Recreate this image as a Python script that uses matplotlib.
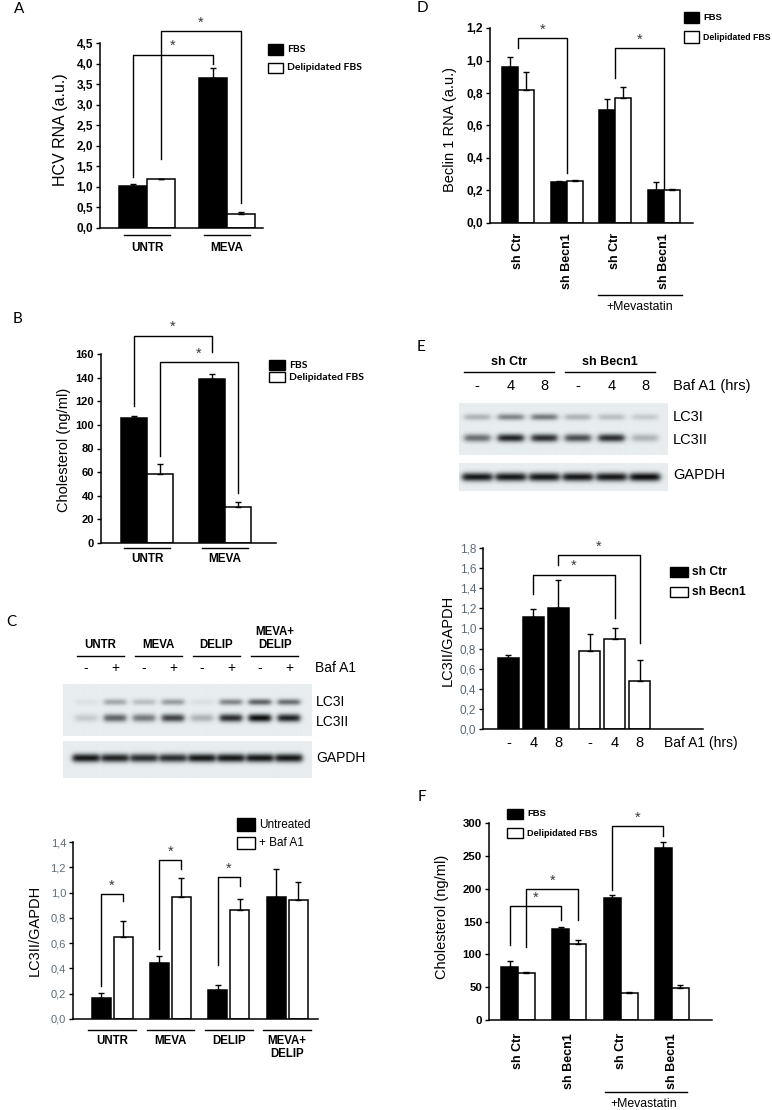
import numpy as np
import matplotlib
matplotlib.use('Agg')
import matplotlib.pyplot as plt
from matplotlib import transforms
from matplotlib.patches import Rectangle
from matplotlib.colors import LinearSegmentedColormap

# ---- data ----
# A: HCV RNA
a_groups = ['UNTR', 'MEVA']
a_fbs = [1.03, 3.64]
a_fbs_err = [0.03, 0.25]
a_del = [1.18, 0.35]
a_del_err = [0.02, 0.04]

# B: cholesterol
b_groups = ['UNTR', 'MEVA']
b_fbs = [106.2, 138.8]
b_fbs_err = [1.0, 4.0]
b_del = [58.4, 30.3]
b_del_err = [8.5, 4.5]

# C: western blot + LC3II/GAPDH
c_blot_groups = ['UNTR', 'MEVA', 'DELIP', 'MEVA+\nDELIP']
c_lanes = ['-', '+', '-', '+', '-', '+', '-', '+']
c_lc3i = [0.05, 0.30, 0.20, 0.35, 0.06, 0.45, 0.60, 0.55]
c_lc3ii = [0.15, 0.60, 0.50, 0.75, 0.25, 0.85, 1.00, 0.90]
c_gapdh = [0.95, 0.90, 0.85, 0.85, 0.95, 0.95, 0.95, 0.95]
c_groups = ['UNTR', 'MEVA', 'DELIP', 'MEVA+\nDELIP']
c_untr = [0.165, 0.44, 0.23, 0.967]
c_untr_err = [0.04, 0.055, 0.04, 0.22]
c_baf = [0.65, 0.967, 0.862, 0.94]
c_baf_err = [0.125, 0.15, 0.09, 0.14]

# D: Beclin 1 RNA
d_cats = ['sh Ctr', 'sh Becn1', 'sh Ctr', 'sh Becn1']
d_fbs = [0.96, 0.25, 0.695, 0.20]
d_fbs_err = [0.06, 0.006, 0.065, 0.055]
d_del = [0.82, 0.256, 0.767, 0.204]
d_del_err = [0.11, 0.006, 0.067, 0.005]

# E: western blot + LC3II/GAPDH
e_blot_groups = ['sh Ctr', 'sh Becn1']
e_lanes = ['-', '4', '8', '-', '4', '8']
e_lc3i = [0.25, 0.45, 0.50, 0.25, 0.20, 0.15]
e_lc3ii = [0.55, 0.90, 0.85, 0.70, 0.85, 0.25]
e_gapdh = [0.95, 0.95, 0.95, 0.95, 0.95, 1.00]
e_ctr = [0.703, 1.114, 1.20]
e_ctr_err = [0.036, 0.083, 0.285]
e_becn = [0.772, 0.898, 0.48]
e_becn_err = [0.176, 0.106, 0.203]

# F: cholesterol, sh lines
f_cats = ['sh Ctr', 'sh Becn1', 'sh Ctr', 'sh Becn1']
f_fbs = [81.4, 138.3, 185.6, 261.8]
f_fbs_err = [8.6, 3.0, 4.0, 8.7]
f_del = [71.2, 115.9, 40.7, 49.3]
f_del_err = [2.5, 5.6, 2.5, 4.1]

W, H = 772, 1110
plt.rcParams['font.family'] = ['Liberation Sans', 'DejaVu Sans']
fig = plt.figure(figsize=(W / 100, H / 100), dpi=100)
fig.patch.set_facecolor('white')

LATO = ['Lato', 'DejaVu Sans']
blot_cmap = LinearSegmentedColormap.from_list('blot', ['#e8edef', '#75797c', '#0c0c0c'])


def fy(y):
    return 1 - y / H


def px_axes(x0, y0, x1, y1):
    return fig.add_axes([x0 / W, fy(y1), (x1 - x0) / W, (y1 - y0) / H])


def ftext(x, y, s, **kw):
    kw.setdefault('va', 'center')
    fig.text(x / W, fy(y), s, **kw)


def blend(ax):
    return transforms.blended_transform_factory(ax.transData, fig.transFigure)


def setup(ax, xlim, ymax, step, dec, size, color='black', bold=True):
    ax.set_xlim(*xlim)
    ax.set_ylim(0, ymax)
    ax.spines[['top', 'right']].set_visible(False)
    ax.spines[['left', 'bottom']].set_linewidth(1.1)
    ticks = np.linspace(0, ymax, int(round(ymax / step)) + 1)
    ax.set_yticks(ticks)
    ax.set_yticklabels([f'{t:.{dec}f}'.replace('.', ',') for t in ticks],
                       fontsize=size, color=color,
                       fontweight='bold' if bold else 'normal')
    ax.set_xticks([])
    ax.tick_params(axis='y', length=3, width=1, pad=2)
    ax.patch.set_visible(False)


def bars(ax, x, vals, errs, w, color):
    ax.bar(x, vals, w, color=color, edgecolor='black', linewidth=1.1, zorder=2)
    ax.errorbar(x, vals, yerr=[np.zeros(len(errs)), errs], fmt='none', ecolor='black',
                elinewidth=1, capsize=2.5, capthick=1, zorder=3)


def bracket(ax, x1, y1, x2, y2, ytop):
    ax.plot([x1, x1, x2, x2], [y1, ytop, ytop, y2], color='black', lw=1, clip_on=False)
    ax.annotate('*', xy=((x1 + x2) / 2, ytop), xytext=(0, 1), textcoords='offset points',
                ha='center', va='bottom', fontsize=10.5, color='#3a3a3a',
                annotation_clip=False)


def legend_box(x0, y0, x1, y1, fill, label, **kw):
    fig.patches.append(Rectangle((x0 / W, fy(y1)), (x1 - x0) / W, (y1 - y0) / H,
                                 transform=fig.transFigure, facecolor=fill,
                                 edgecolor='black', linewidth=1))
    ftext(x1 + 4, (y0 + y1) / 2, label, **kw)


def underline(ax, xa, xb, y):
    ax.plot([xa, xb], [fy(y), fy(y)], color='black', lw=1, transform=blend(ax), clip_on=False)


def draw_blot(ax, xlim, height, rows, half=0.38):
    xs = np.linspace(xlim[0], xlim[1], 500)
    ys = np.linspace(0, height, int(height * 4))
    img = np.zeros((len(ys), len(xs)))
    for intens, yc, sig in rows:
        py = np.exp(-0.5 * ((ys - yc) / sig) ** 2)
        for i, v in enumerate(intens):
            px = 1 / (1 + np.exp(-(xs - (i - half)) / 0.05)) / (1 + np.exp((xs - (i + half)) / 0.05))
            img += v * np.outer(py, px)
    ax.imshow(np.clip(img, 0, 1), cmap=blot_cmap, vmin=0, vmax=1, aspect='auto',
              extent=[xlim[0], xlim[1], height, 0], interpolation='bilinear')
    ax.set_xlim(*xlim)
    ax.set_ylim(height, 0)
    ax.axis('off')


LETTER = dict(fontsize=11, family=LATO)

# ================= A =================
ax = px_axes(100, 43, 263, 228)
setup(ax, (-0.5875, 1.45), 4.5, 0.5, 1, 8.5)
x = np.arange(len(a_groups))
off, w = 0.175, 0.35
bars(ax, x - off, a_fbs, a_fbs_err, w, 'black')
bars(ax, x + off, a_del, a_del_err, w, 'white')
bracket(ax, 0 - off, 1.25, 1 - off, 4.0, 4.22)
bracket(ax, 0 + off, 1.67, 1 + off, 0.6, 4.78)
for i, g in enumerate(a_groups):
    underline(ax, i - 0.29, i + 0.29, 235)
    ax.text(i, fy(248), g, transform=blend(ax), ha='center', va='center', fontsize=8.5, fontweight='bold')
ftext(60, 130, 'HCV RNA (a.u.)', rotation=90, ha='center', fontsize=11.5)
legend_box(268, 44, 283, 55, 'black', 'FBS', fontsize=7.5, family=LATO, fontweight='bold')
legend_box(268, 63, 283, 73, 'white', 'Delipidated FBS', fontsize=7.5, family=LATO, fontweight='bold')
ftext(14, 9, 'A', **LETTER)

# ================= B =================
ax = px_axes(101, 354, 276, 543)
setup(ax, (-0.59, 1.654), 160, 20, 0, 8)
x = np.arange(len(b_groups))
off, w = 0.167, 0.333
bars(ax, x - off, b_fbs, b_fbs_err, w, 'black')
bars(ax, x + off, b_del, b_del_err, w, 'white')
bracket(ax, 0 - off, 116, 1 - off, 162, 175.6)
bracket(ax, 0 + off, 73.6, 1 + off, 42.5, 153)
for i, g in enumerate(b_groups):
    underline(ax, i - 0.30, i + 0.30, 548)
    ax.text(i, fy(559), g, transform=blend(ax), ha='center', va='center', fontsize=8.5, fontweight='bold')
ftext(64, 450, 'Cholesterol (ng/ml)', rotation=90, ha='center', fontsize=10.5)
legend_box(269, 360, 285, 370, 'black', 'FBS', fontsize=7.5, family=LATO, fontweight='bold')
legend_box(269, 372, 285, 382, 'white', 'Delipidated FBS', fontsize=7.5, family=LATO, fontweight='bold')
ftext(13, 319, 'B', **LETTER)

# ================= C blot =================
cxl = (-0.79, 7.79)
ax = px_axes(63, 684, 312, 736)
draw_blot(ax, cxl, 52, [(c_lc3i, 18, 2.2), (c_lc3ii, 34, 2.8)])
for i, s in enumerate(c_lanes):
    ax.text(i, fy(668), s, transform=blend(ax), ha='center', va='center', fontsize=10)
for k, g in enumerate(c_blot_groups):
    underline(ax, 2 * k - 0.31, 2 * k + 1.31, 656)
    ax.text(2 * k + 0.5, fy(651), g, transform=blend(ax), ha='center', va='bottom',
            fontsize=8.3, fontweight='bold', linespacing=1.1)
ax2 = px_axes(63, 741, 312, 778)
draw_blot(ax2, cxl, 37, [(c_gapdh, 17, 3.0)], half=0.46)
ftext(315, 668, 'Baf A1', fontsize=10)
ftext(316, 702, 'LC3I', fontsize=10)
ftext(316, 722, 'LC3II', fontsize=10)
ftext(316, 758, 'GAPDH', fontsize=10)
ftext(6, 622, 'C', **LETTER)

# ================= C chart =================
ax = px_axes(73, 842, 318, 1019)
setup(ax, (-0.67, 3.53), 1.4, 0.2, 1, 8, color='#5b6b78', bold=False)
x = np.arange(len(c_groups))
off, w = 0.189, 0.326
bars(ax, x - off, c_untr, c_untr_err, w, 'black')
bars(ax, x + off, c_baf, c_baf_err, w, 'white')
bracket(ax, 0 - off, 0.26, 0 + off, 0.93, 0.99)
bracket(ax, 1 - off, 0.55, 1 + off, 1.19, 1.26)
bracket(ax, 2 - off, 0.43, 2 + off, 1.05, 1.12)
for i, g in enumerate(c_groups):
    underline(ax, i - 0.41, i + 0.41, 1030)
    ax.text(i, fy(1035), g, transform=blend(ax), ha='center', va='top', fontsize=8.3,
            fontweight='bold', linespacing=1.1)
ftext(35, 930, 'LC3II/GAPDH', rotation=90, ha='center', fontsize=10.5)
legend_box(237, 818, 255, 831, 'black', 'Untreated', fontsize=8.5)
legend_box(237, 837, 255, 849, 'white', '+ Baf A1', fontsize=8.5)

# ================= D =================
ax = px_axes(490, 28, 693, 223)
setup(ax, (-0.575, 3.6), 1.2, 0.2, 1, 8.5)
x = np.arange(len(d_cats))
off, w = 0.165, 0.33
bars(ax, x - off, d_fbs, d_fbs_err, w, 'black')
bars(ax, x + off, d_del, d_del_err, w, 'white')
bracket(ax, 0, 1.078, 1, 0.307, 1.139)
bracket(ax, 2, 0.89, 3, 0.215, 1.078)
for i, c in enumerate(d_cats):
    ax.text(i, fy(233), c, transform=blend(ax), rotation=90, ha='center', va='top',
            fontsize=9, fontweight='bold')
underline(ax, 2 - 0.35, 3 + 0.37, 295)
ax.text(2.5, fy(307), '+Mevastatin', transform=blend(ax), ha='center', va='center', fontsize=8.8)
ftext(450, 130, 'Beclin 1 RNA (a.u.)', rotation=90, ha='center', fontsize=10.5)
legend_box(684, 12, 699, 23, 'black', 'FBS', fontsize=6.8, fontweight='bold')
legend_box(684, 31, 699, 43, 'white', 'Delipidated FBS', fontsize=6.3, fontweight='bold')
ftext(417, 8, 'D', **LETTER)

# ================= E blot =================
exl = (-0.54, 5.68)
ax = px_axes(459, 403, 668, 455)
draw_blot(ax, exl, 52, [(e_lc3i, 14, 2.3), (e_lc3ii, 35, 2.8)])
for i, s in enumerate(e_lanes):
    ax.text(i, fy(386), s, transform=blend(ax), ha='center', va='center', fontsize=10.5)
for k, g in enumerate(e_blot_groups):
    underline(ax, 3 * k - 0.39, 3 * k + 2.29, 372)
    ax.text(3 * k + 0.95, fy(362), g, transform=blend(ax), ha='center', va='center',
            fontsize=9, fontweight='bold')
ax2 = px_axes(459, 463, 668, 491)
draw_blot(ax2, exl, 28, [(e_gapdh, 14, 3.0)], half=0.44)
ftext(673, 386, 'Baf A1 (hrs)', fontsize=10.5)
ftext(673, 417, 'LC3I', fontsize=10.5)
ftext(673, 440, 'LC3II', fontsize=10.5)
ftext(673, 475, 'GAPDH', fontsize=10.5)
ftext(417, 347, 'E', **LETTER)

# ================= E chart =================
ax = px_axes(483, 548, 703, 729)
setup(ax, (-1.02, 7.79), 1.8, 0.2, 1, 8.5, color='#5b6b78', bold=False)
xc = np.arange(len(e_ctr))
xb = np.arange(len(e_becn)) + 3.25
bars(ax, xc, e_ctr, e_ctr_err, 0.84, 'black')
bars(ax, xb, e_becn, e_becn_err, 0.84, 'white')
bracket(ax, xc[1], 1.346, xb[1], 1.104, 1.535)
bracket(ax, xc[2], 1.634, xb[2], 0.855, 1.727)
for xi, s in zip(np.concatenate([xc, xb]), e_lanes):
    ax.text(xi, fy(743), s, transform=blend(ax), ha='center', va='center', fontsize=10.5)
ftext(664, 743, 'Baf A1 (hrs)', fontsize=10)
ftext(448, 640, 'LC3II/GAPDH', rotation=90, ha='center', fontsize=10.5)
legend_box(670, 567, 688, 577, 'black', 'sh Ctr', fontsize=8.7, fontweight='bold')
legend_box(670, 587, 688, 597, 'white', 'sh Becn1', fontsize=8.7, fontweight='bold')

# ================= F =================
ax = px_axes(489, 823, 712, 1020)
setup(ax, (-0.565, 3.78), 300, 50, 0, 8.2)
x = np.arange(len(f_cats))
off, w = 0.165, 0.33
bars(ax, x - off, f_fbs, f_fbs_err, w, 'black')
bars(ax, x + off, f_del, f_del_err, w, 'white')
bracket(ax, 0 - off, 114.4, 1 - off, 152.5, 172.9)
bracket(ax, 0 + off, 111.9, 1 + off, 152.5, 199.8)
bracket(ax, 2 - off, 197.3, 3 - off, 279.6, 295.9)
for i, c in enumerate(f_cats):
    ax.text(i, fy(1033), c, transform=blend(ax), rotation=90, ha='center', va='top',
            fontsize=9, fontweight='bold')
underline(ax, 2 - 0.3, 3 + 0.29, 1092)
ax.text(2.45, fy(1104), '+Mevastatin', transform=blend(ax), ha='center', va='center', fontsize=8.8)
ftext(442, 917, 'Cholesterol (ng/ml)', rotation=90, ha='center', fontsize=10.5)
legend_box(507, 809, 523, 819, 'black', 'FBS', fontsize=6.8, fontweight='bold')
legend_box(507, 828, 523, 838, 'white', 'Delipidated FBS', fontsize=6.6, fontweight='bold')
ftext(418, 797, 'F', **LETTER)

fig.savefig('out.png', dpi=100)
